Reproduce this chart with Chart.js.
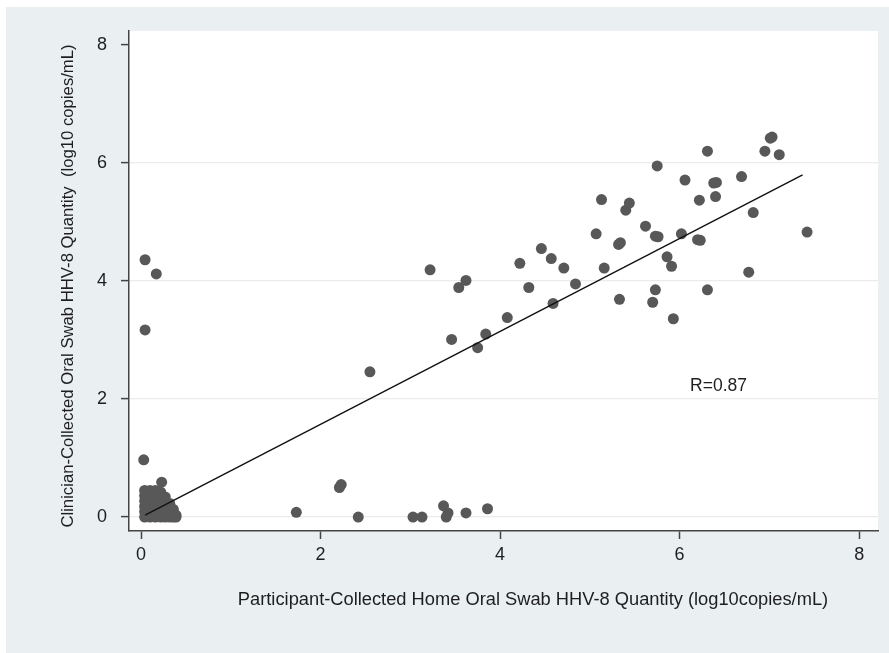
<!DOCTYPE html>
<html>
<head>
<meta charset="utf-8">
<script src="https://cdn.jsdelivr.net/npm/chart.js@4.4.1/dist/chart.umd.min.js"></script>
<style>
  html, body { margin: 0; padding: 0; background: #ffffff; }
  canvas { display: block; }
</style>
</head>
<body>
<canvas id="c" width="889" height="653"></canvas>
<script>
// ---- Data ----
// Participant-collected home swab (x) and clinician-collected swab (y), log10 copies/mL
const participantHome = [
  // dense cluster near the origin
  0.04,0.04,0.04,0.04,0.04,0.04,
  0.10,0.10,0.10,0.10,0.10,0.10,
  0.16,0.16,0.16,0.16,0.16,0.16,
  0.22,0.22,0.22,0.22,0.22,0.22,
  0.27,0.27,0.27,0.27,0.27,
  0.32,0.32,0.32,0.32,
  0.36,0.36,0.36,
  0.39,0.39,
  0.07,0.13,0.19,0.25,0.07,0.13,0.19,0.25,0.30,0.34,
  // near-zero x outliers
  0.03,0.23,0.045,0.17,0.045,
  // clinician ~0 row
  1.73,2.21,2.23,2.42,3.03,3.13,3.37,3.42,3.40,3.62,3.86,
  // main cloud
  2.55,3.22,3.46,3.54,3.62,3.75,3.84,4.08,4.22,4.32,4.46,4.57,4.59,4.71,4.84,
  5.07,5.13,5.16,5.33,5.34,5.32,5.40,5.44,5.62,5.73,5.70,5.75,5.76,5.73,5.86,
  5.91,5.93,6.02,6.06,6.22,6.23,6.20,6.31,6.31,6.40,6.41,6.38,6.69,6.77,6.82,
  6.95,7.11,7.03,7.01,7.42
];
const clinician = [
  0,0.09,0.18,0.27,0.36,0.45,
  0,0.09,0.18,0.27,0.36,0.45,
  0,0.09,0.18,0.27,0.36,0.45,
  0,0.09,0.18,0.27,0.36,0.42,
  0,0.09,0.18,0.27,0.34,
  0,0.08,0.16,0.23,
  0,0.07,0.13,
  0,0.03,
  0.13,0.13,0.13,0.13,0.31,0.31,0.31,0.31,0.04,0.04,
  0.97,0.59,4.36,4.12,3.17,
  0.08,0.50,0.55,0,0,0,0.19,0.07,0,0.07,0.14,
  2.46,4.19,3.01,3.89,4.01,2.87,3.10,3.38,4.30,3.89,4.55,4.38,3.62,4.22,3.95,
  4.80,5.38,4.22,3.69,4.65,4.62,5.20,5.32,4.93,3.85,3.64,5.95,4.75,4.76,4.41,
  4.25,3.36,4.80,5.71,5.37,4.69,4.70,3.85,6.20,5.43,5.67,5.66,5.77,4.15,5.16,
  6.20,6.14,6.44,6.42,4.83
];
// Fitted regression line end points
const fitX = [0.045, 7.37];
const fitY = [0.03, 5.80];
// Tick labels
const xTicks = [0, 2, 4, 6, 8];
const yTicks = [0, 2, 4, 6, 8];
// Correlation annotation
const rLabel = 'R=0.87';
const rPos = { x: 6.117, y: 2.14 };

const xTitle = 'Participant-Collected Home Oral Swab HHV-8 Quantity (log10copies/mL)';
const yTitle = 'Clinician-Collected Oral Swab HHV-8 Quantity  (log10 copies/mL)';

// ---- Styling ----
const FONT = "'Liberation Sans', Arial, sans-serif";
const pointColor = '#585858';

const scatterData = participantHome.map((x, i) => ({ x: x, y: clinician[i] }));
const fitData = fitX.map((x, i) => ({ x: x, y: fitY[i] }));

const decor = {
  id: 'decor',
  beforeDraw(chart) {
    const ctx = chart.ctx, a = chart.chartArea;
    ctx.save();
    ctx.fillStyle = '#ffffff';
    ctx.fillRect(0, 0, chart.width, chart.height);
    ctx.fillStyle = '#eaeff2';
    ctx.fillRect(6, 7, chart.width - 6, chart.height - 7);
    ctx.fillStyle = '#ffffff';
    ctx.fillRect(a.left, a.top, a.right - a.left, a.bottom - a.top);
    ctx.restore();
  },
  afterDraw(chart) {
    const ctx = chart.ctx;
    const xs = chart.scales.x, ys = chart.scales.y;
    ctx.save();
    ctx.fillStyle = '#1e1e1e';
    // R annotation
    ctx.font = '17.5px ' + FONT;
    ctx.textAlign = 'left';
    ctx.textBaseline = 'alphabetic';
    ctx.fillText(rLabel, xs.getPixelForValue(rPos.x), ys.getPixelForValue(rPos.y));
    // x-axis title
    ctx.font = '18.3px ' + FONT;
    ctx.textAlign = 'center';
    ctx.fillText(xTitle, 533, 605);
    // y-axis title
    ctx.font = '16.7px ' + FONT;
    ctx.translate(73, 286);
    ctx.rotate(-Math.PI / 2);
    ctx.textAlign = 'center';
    ctx.fillText(yTitle, 0, 0);
    ctx.restore();
  }
};

new Chart(document.getElementById('c'), {
  type: 'scatter',
  data: {
    datasets: [
      {
        type: 'line',
        label: 'Fit',
        data: fitData,
        borderColor: '#111111',
        borderWidth: 1.4,
        pointRadius: 0,
        fill: false,
        tension: 0
      },
      {
        label: 'Samples',
        data: scatterData,
        backgroundColor: pointColor,
        borderWidth: 0,
        pointRadius: 5.5,
        pointHoverRadius: 5.5
      }
    ]
  },
  options: {
    responsive: false,
    animation: false,
    devicePixelRatio: 1,
    layout: { padding: { top: 31, right: 11, bottom: 0, left: 0 } },
    plugins: { legend: { display: false }, tooltip: { enabled: false } },
    scales: {
      x: {
        type: 'linear',
        min: -0.134,
        max: 8.21,
        afterFit(s) { s.height = 122; },
        afterBuildTicks(s) { s.ticks = xTicks.map(v => ({ value: v })); },
        grid: { drawOnChartArea: false, drawTicks: true, tickLength: 8, tickColor: '#444444', tickWidth: 1.5 },
        border: { display: true, color: '#444444', width: 1.5 },
        ticks: { color: '#1e1e1e', font: { family: FONT, size: 18 }, padding: 5, maxRotation: 0 }
      },
      y: {
        type: 'linear',
        min: -0.237,
        max: 8.237,
        afterFit(s) { s.width = 129; },
        afterBuildTicks(s) { s.ticks = yTicks.map(v => ({ value: v })); },
        grid: {
          color: c => (c.tick && c.tick.value === 8) ? 'rgba(0,0,0,0)' : '#ebebeb',
          lineWidth: 1.2,
          drawTicks: true, tickLength: 8, tickColor: '#444444', tickWidth: 1.5
        },
        border: { display: true, color: '#444444', width: 1.5 },
        ticks: { color: '#1e1e1e', font: { family: FONT, size: 18 }, padding: 14 }
      }
    }
  },
  plugins: [decor]
});
</script>
</body>
</html>
